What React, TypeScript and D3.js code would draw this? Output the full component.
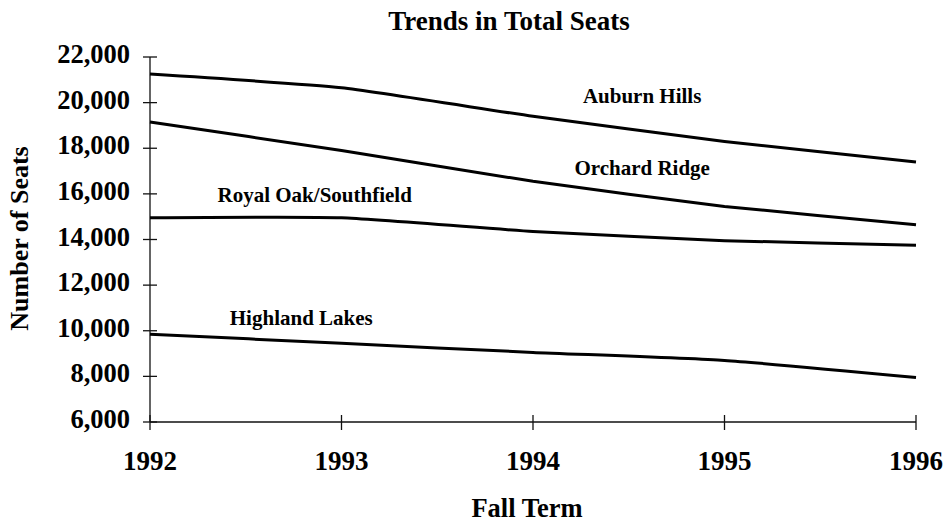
import React, { useEffect, useRef } from "react";
import * as d3 from "d3";

const years = [1992, 1993, 1994, 1995, 1996];
const yTicks = [6000, 8000, 10000, 12000, 14000, 16000, 18000, 20000, 22000];

const auburnHills = [21250, 20650, 19400, 18300, 17400];
const orchardRidge = [19150, 17900, 16550, 15450, 14650];
const royalOak = [14950, 14950, 14350, 13950, 13750];
const highlandLakes = [9850, 9450, 9050, 8700, 7950];

const seriesNames = ["Auburn Hills", "Orchard Ridge", "Royal Oak/Southfield", "Highland Lakes"];
// where each series name sits, in data units (year, seats)
const labelYears = [1994.57, 1994.57, 1992.86, 1992.79];
const labelSeats = [20000, 16830, 15640, 10250];

const FONT = "Liberation Serif";

const TrendsChart = () => {
  const svgRef = useRef<SVGSVGElement | null>(null);

  useEffect(() => {
    const width = 946;
    const height = 525;
    const margin = { top: 57, right: 30, bottom: 103, left: 150 };

    const svg = d3.select(svgRef.current);
    svg.selectAll("*").remove();

    const x = d3
      .scaleLinear()
      .domain([1992, 1996])
      .range([margin.left, width - margin.right]);

    const y = d3
      .scaleLinear()
      .domain([6000, 22000])
      .range([height - margin.bottom, margin.top]);

    const g = svg.append("g");

    const addText = (sel: any) =>
      sel.attr("font-family", FONT).attr("font-weight", "bold").attr("fill", "#000");

    // title
    g.append("text")
      .attr("x", 509)
      .attr("y", 30)
      .attr("text-anchor", "middle")
      .attr("font-size", 27)
      .call(addText)
      .text("Trends in Total Seats");

    // y axis
    g.append("line")
      .attr("x1", x(1992))
      .attr("x2", x(1992))
      .attr("y1", y(22000))
      .attr("y2", y(6000))
      .attr("stroke", "#111")
      .attr("stroke-width", 1.3);

    const yt = g.selectAll(".ytick").data(yTicks).enter().append("g").attr("class", "ytick");
    yt.append("line")
      .attr("x1", x(1992) - 7)
      .attr("x2", x(1992) + 7)
      .attr("y1", (d) => y(d))
      .attr("y2", (d) => y(d))
      .attr("stroke", "#111")
      .attr("stroke-width", 1.3);
    yt.append("text")
      .attr("x", x(1992) - 20)
      .attr("y", (d) => y(d) + 6)
      .attr("text-anchor", "end")
      .attr("font-size", 26.5)
      .call(addText)
      .text((d) => d3.format(",")(d));

    // x axis
    g.append("line")
      .attr("x1", x(1992))
      .attr("x2", x(1996))
      .attr("y1", y(6000))
      .attr("y2", y(6000))
      .attr("stroke", "#111")
      .attr("stroke-width", 1.3);

    const xt = g.selectAll(".xtick").data(years).enter().append("g").attr("class", "xtick");
    xt.append("line")
      .attr("x1", (d) => x(d))
      .attr("x2", (d) => x(d))
      .attr("y1", y(6000) - 7)
      .attr("y2", y(6000) + 8)
      .attr("stroke", "#111")
      .attr("stroke-width", 1.3);
    xt.append("text")
      .attr("x", (d) => x(d))
      .attr("y", y(6000) + 48)
      .attr("text-anchor", "middle")
      .attr("font-size", 27)
      .call(addText)
      .text((d) => d);

    // axis titles
    g.append("text")
      .attr("transform", `translate(28, ${(y(6000) + y(22000)) / 2 - 1}) rotate(-90)`)
      .attr("text-anchor", "middle")
      .attr("font-size", 26)
      .call(addText)
      .text("Number of Seats");

    g.append("text")
      .attr("x", 527)
      .attr("y", 517)
      .attr("text-anchor", "middle")
      .attr("font-size", 26.5)
      .call(addText)
      .text("Fall Term");

    // lines
    const line = d3
      .line<number>()
      .x((d, i) => x(years[i]))
      .y((d) => y(d))
      .curve(d3.curveCardinal.tension(0.5));

    const allSeries = [auburnHills, orchardRidge, royalOak, highlandLakes];
    allSeries.forEach((values) => {
      g.append("path")
        .datum(values)
        .attr("fill", "none")
        .attr("stroke", "#000")
        .attr("stroke-width", 3)
        .attr("d", line);
    });

    // series names
    seriesNames.forEach((name, i) => {
      g.append("text")
        .attr("x", x(labelYears[i]))
        .attr("y", y(labelSeats[i]))
        .attr("text-anchor", "middle")
        .attr("font-size", 21)
        .call(addText)
        .text(name);
    });
  }, []);

  return (
    <svg
      ref={svgRef}
      width={946}
      height={525}
      style={{ position: "absolute", left: 0, top: 0, background: "#fff" }}
    />
  );
};

export default function App() {
  return <TrendsChart />;
}
